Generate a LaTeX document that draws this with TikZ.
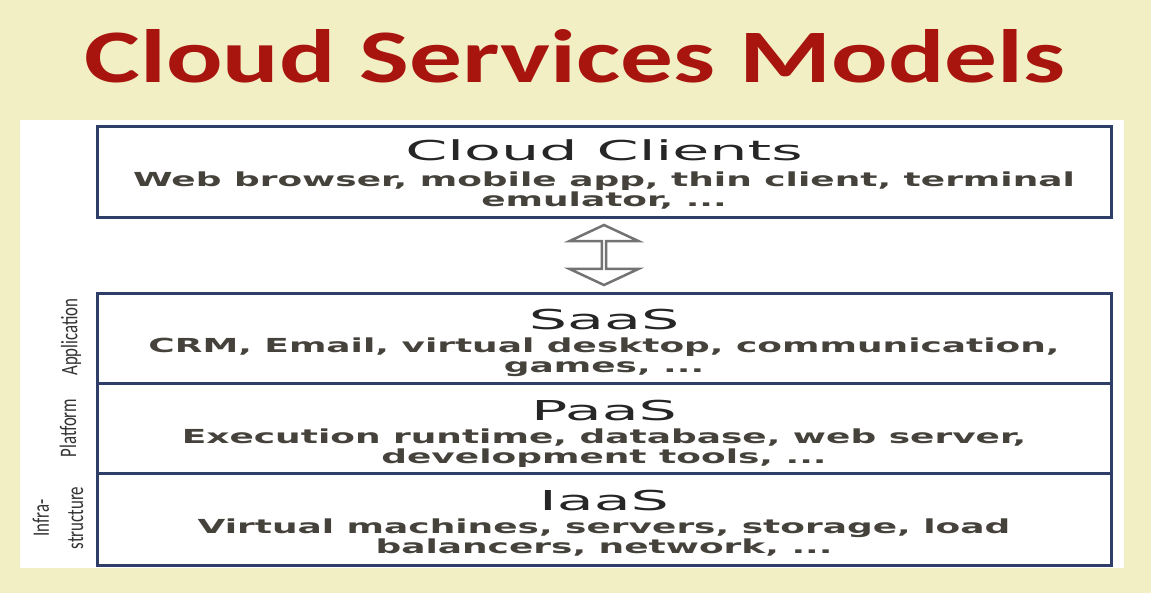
\documentclass[tikz,border=0pt]{standalone}
\usepackage{fontspec}
\setmainfont{DejaVu Sans}
\newfontfamily\titlefont{Carlito}
\usetikzlibrary{calc,shapes.arrows}
\definecolor{slidebg}{HTML}{F2EFC4}
\definecolor{titlered}{HTML}{A8140E}
\definecolor{boxblue}{HTML}{2F3E69}
\definecolor{subgray}{HTML}{45423C}
\newlength\px
\setlength\px{0.02cm}
\newcommand\subfont{\bfseries\fontsize{11}{11.1}\selectfont\lineskiplimit-20pt\relax}
\tikzset{>=latex}
\tikzset{
  layer/.style={draw=boxblue,line width=3\px,fill=white,inner sep=0pt,outer sep=0pt,
    minimum width=1014\px,anchor=north west},
  head/.style={font=\fontsize{15.6}{18}\selectfont,text=black!85,xscale=2.2,anchor=base,inner sep=0pt},
  sub/.style={font=\subfont,text=subgray,xscale=1.86,align=center,anchor=base,inner sep=0pt},
  side/.style={font=\titlefont\fontsize{9.6}{14}\selectfont,text=black!80,xscale=1.4,rotate=90,
    align=center,inner sep=0pt},
  updown/.style={double arrow,draw=black!55,fill=white,line width=2.5\px,rotate=90,
    minimum height=60\px,minimum width=69\px,double arrow head extend=19.5\px,
    double arrow tip angle=130,inner sep=0pt,outer sep=0pt}
}

\begin{document}
\begin{tikzpicture}[x=0.02cm,y=-0.02cm]
  \fill[slidebg] (0,0) rectangle (1151,593);
  \useasboundingbox (0,0) rectangle (1151,593);
  \node[font=\titlefont\bfseries\fontsize{43}{50}\selectfont,text=titlered,xscale=1.394,
    anchor=base,inner sep=0pt] (title) at (575,82) {Cloud Services Models};
  \fill[white] (20,120) rectangle (1124,568);

  % clients on top
  \node[layer,minimum height=91\px] (clients) at (97,126) {};
  \node[head] (clientsh) at ($(clients.north)+(0,34)$) {Cloud Clients};
  \node[sub] (clientss) at ($(clients.north)+(0,80)$)
    {Web browser, mobile app, thin client, terminal\\emulator, ...};

  % service stack
  \node[layer,minimum height=90\px] (saas) at (97,293) {};
  \node[layer,minimum height=90\px] (paas) at (saas.south west) {};
  \node[layer,minimum height=92\px] (iaas) at (paas.south west) {};
  \node[head] (saash) at ($(saas.north)+(0,36)$) {SaaS};
  \node[sub] (saass) at ($(saas.north)+(0,79)$)
    {CRM, Email, virtual desktop, communication,\\games, ...};
  \node[head] (paash) at ($(paas.north)+(0,37)$) {PaaS};
  \node[sub] (paass) at ($(paas.north)+(0,80)$)
    {Execution runtime, database, web server,\\development tools, ...};
  \node[head] (iaash) at ($(iaas.north)+(0,37)$) {IaaS};
  \node[sub] (iaass) at ($(iaas.north)+(0,80)$)
    {Virtual machines, servers, storage, load\\balancers, network, ...};

  \node[updown] (link) at ($(clients.south)!0.5!(saas.north)$) {};

  \node[side] (app) at (71,337) {Application};
  \node[side] (plat) at (68,428) {Platform};
  \node[side] (infra) at (58,518) {Infra-\\structure};
\end{tikzpicture}
\end{document}
